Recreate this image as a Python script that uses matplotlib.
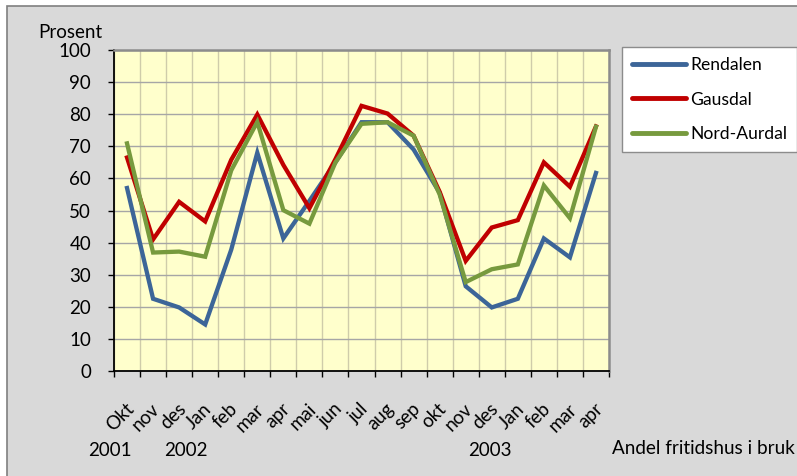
import matplotlib
matplotlib.use("Agg")
import matplotlib.pyplot as plt
from matplotlib.patches import Rectangle
from matplotlib.transforms import blended_transform_factory

plt.rcParams['font.family'] = ['Lato', 'DejaVu Sans']

# === Data ===
months = ["Okt", "nov", "des", "Jan", "feb", "mar", "apr", "mai", "jun", "jul",
          "aug", "sep", "okt", "nov", "des", "Jan", "feb", "mar", "apr"]
rendalen = [57, 22.5, 19.8, 14.5, 37.8, 68, 41.3, 53, 65, 77.5,
            77.5, 69, 55.5, 26.4, 19.8, 22.5, 41.3, 35.4, 61.7]
gausdal = [66.5, 41, 52.7, 46.6, 65.8, 79.9, 64.2, 50.7, 66, 82.6,
           80.2, 73.3, 55.8, 34.3, 44.7, 47, 65, 57.4, 76.2]
nord_aurdal = [70.9, 36.9, 37.2, 35.6, 62.5, 77.6, 50.1, 45.9, 65, 77,
               77.5, 73.3, 55, 27.7, 31.7, 33.2, 57.8, 47.6, 76.1]
series = [("Rendalen", rendalen, "#3C6598"),
          ("Gausdal", gausdal, "#C00000"),
          ("Nord-Aurdal", nord_aurdal, "#779A3E")]
years = [("2001", 110), ("2002", 186), ("2003", 490)]

FS = 13.5
W, H = 797, 476
fig = plt.figure(figsize=(W / 100, H / 100), dpi=100, facecolor="white")

# outer chart frame
fig.patches.append(Rectangle((7 / W, -0.01), 1.0, 1 - 6 / H + 0.01,
                             transform=fig.transFigure, facecolor="#D9D9D9",
                             edgecolor="#7F7F7F", linewidth=1.2, zorder=-5))

ax = fig.add_axes([114 / W, 1 - 371 / H, (609 - 114) / W, (371 - 50) / H])
ax.set_facecolor("#FFFFCC")

n = len(months)
x = list(range(n))
for name, vals, color in series:
    ax.plot(x, vals, color=color, lw=3.1, label=name, solid_joinstyle="miter",
            zorder=3)

ax.set_xlim(-0.5, n - 0.5)
ax.set_ylim(0, 100)
ax.set_yticks(range(0, 101, 10))
ax.set_xticks([i - 0.5 for i in range(n + 1)])
ax.set_xticklabels([])
ax.tick_params(axis="x", length=4.5, width=1, color="black", direction="out")
ax.tick_params(axis="y", length=4.5, width=1, color="black", direction="out",
               labelsize=FS, pad=12)
ax.yaxis.grid(True, color="#A6A6A6", lw=1, zorder=1)
ax.xaxis.grid(True, color="#CFCCAA", lw=1, zorder=1)
ax.set_axisbelow(True)

for s in ["left", "bottom"]:
    ax.spines[s].set_color("black")
    ax.spines[s].set_linewidth(1.3)
for s in ["top", "right"]:
    ax.spines[s].set_color("#8C8C8C")
    ax.spines[s].set_linewidth(1.8)

# rotated month labels
trans = blended_transform_factory(ax.transData, ax.transAxes)
for i, m in enumerate(months):
    ax.text(i + 0.15, -0.11, m, transform=trans, rotation=45,
            rotation_mode="anchor", ha="right", va="center", fontsize=FS)

for label, px in years:
    fig.text(px / W, 1 - 450 / H, label, ha="center", va="center", fontsize=FS)

fig.text(70 / W, 1 - 33 / H, "Prosent", ha="center", va="center", fontsize=FS)
fig.text(612 / W, 1 - 448 / H, "Andel fritidshus i bruk", ha="left",
         va="center", fontsize=13.6)

leg = ax.legend(loc="upper left", bbox_to_anchor=(622 / W, 1 - 47 / H),
                bbox_transform=fig.transFigure, borderaxespad=0,
                fancybox=False, framealpha=1, edgecolor="#8C8C8C",
                fontsize=12.6, handlelength=3.1, handletextpad=0.25,
                labelspacing=1.08, borderpad=0.55)
leg.get_frame().set_linewidth(1)
for line in leg.get_lines():
    line.set_linewidth(3.5)
    line.set_solid_capstyle("round")

fig.savefig("out.png", dpi=100, facecolor="white")
